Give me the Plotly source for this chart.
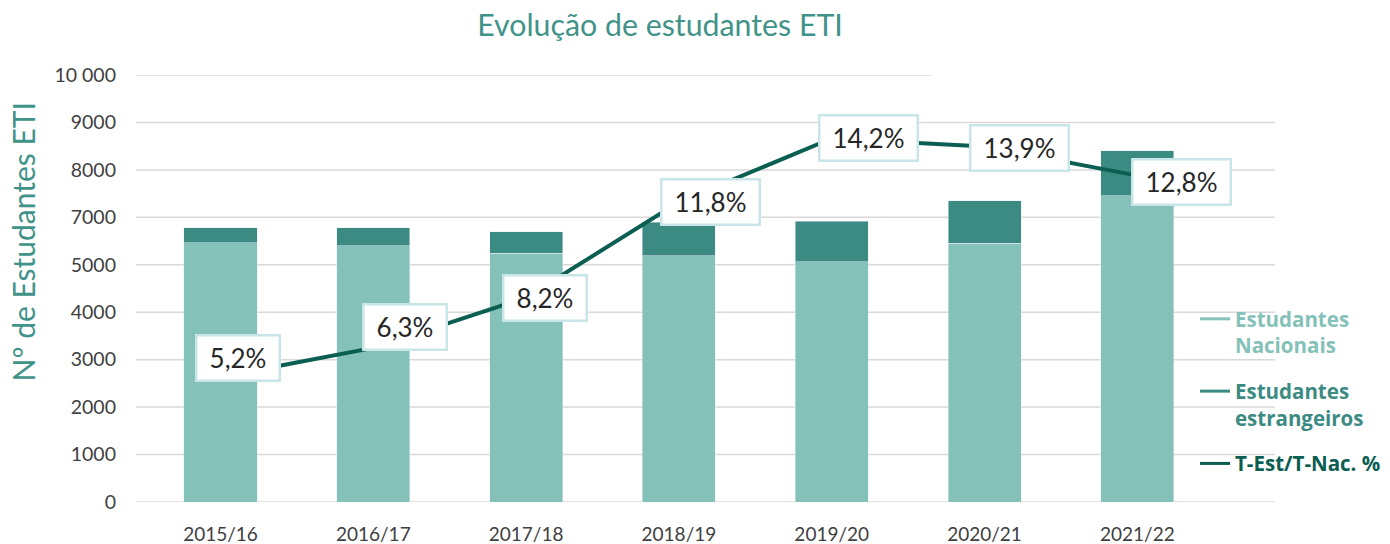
import plotly.graph_objects as go

# ---- data ----
anos = ["2015/16", "2016/17", "2017/18", "2018/19", "2019/20", "2020/21", "2021/22"]
nacionais = [5464, 5401, 5238, 5190, 5063, 5449, 6456]
estrangeiros = [317, 380, 458, 702, 850, 901, 949]
rel_est_nac = [5.2, 6.3, 8.2, 11.8, 14.2, 13.9, 12.8]
y_tickvals = [0, 1000, 2000, 3000, 4000, 5000, 6000, 7000, 8000, 9000]
y_ticktext = ["0", "1000", "2000", "3000", "4000", "5000", "7000", "8000", "9000", "10 000"]

# ---- styles ----
C_NAC = "#84c1b9"
C_EST = "#3c8b83"
C_LINE = "#0b5e52"
C_TITLE = "#3f9388"
C_TICK = "#404040"
C_GRID = "#d9d9d9"
FONT = "Lato"
LEG_FONT = "Open Sans"
label_shift_px = [(17, 19), (32, 21), (19, 0), (32, 0), (37, 0), (35, -2), (44, -6)]

fig = go.Figure()
fig.add_trace(go.Bar(x=anos, y=nacionais, marker_color=C_NAC, showlegend=False,
                     name="Estudantes Nacionais"))
fig.add_trace(go.Bar(x=anos, y=estrangeiros, marker_color=C_EST, showlegend=False,
                     name="Estudantes estrangeiros"))
fig.add_trace(go.Scatter(x=anos, y=rel_est_nac, yaxis="y2", mode="lines",
                         line=dict(color=C_LINE, width=4), showlegend=False,
                         name="T-Est/T-Nac. %"))

# legend entries (dash style as in the reference)
legend_items = [("Estudantes<br>Nacionais", C_NAC), ("Estudantes<br>estrangeiros", C_EST),
                ("T-Est/T-Nac. %", C_LINE)]
for i, (nm, col) in enumerate(legend_items):
    fig.add_trace(go.Scatter(x=[None], y=[None], mode="lines", line=dict(color=col, width=3),
                             name=f"<span style='color:{col}'><b>{nm}</b></span>",
                             legendgroup=f"g{i}", showlegend=True))

# gridlines
shapes = []
for v in y_tickvals:
    x1 = 0.6986 if v == y_tickvals[-1] else 1
    shapes.append(dict(type="line", xref="paper", yref="y", x0=0, x1=x1, y0=v, y1=v,
                       line=dict(color=C_GRID, width=1.5), layer="below"))

annotations = []
for i, (a, v) in enumerate(zip(anos, rel_est_nac)):
    dx, dy = label_shift_px[i]
    txt = f"{v:.1f}".replace(".", ",") + "%"
    annotations.append(dict(x=a, y=v, xref="x", yref="y2", text=txt,
                            showarrow=False, xshift=dx, yshift=dy,
                            width=15 * len(txt) + 9, height=31, align="center", valign="middle",
                            font=dict(family=FONT, size=26, color="#262626"),
                            bgcolor="white", bordercolor="#c8e6e8", borderwidth=2.5, borderpad=6))
annotations.append(dict(text="Nº de Estudantes ETI", textangle=-90, xref="paper", yref="paper",
                        x=(22 - 136) / 1139, y=(502 - 242.5) / 427, xanchor="center",
                        yanchor="middle", showarrow=False,
                        font=dict(family=FONT, size=30, color=C_TITLE)))

fig.update_layout(
    width=1390, height=544,
    margin=dict(l=136, r=115, t=75, b=42, autoexpand=False),
    paper_bgcolor="white", plot_bgcolor="white",
    barmode="stack", bargap=0.522,
    title=dict(text="Evolução de estudantes ETI", x=660 / 1390, xanchor="center", xref="container",
               y=1 - 25 / 544, yanchor="middle", yref="container",
               font=dict(family=FONT, size=30.3, color=C_TITLE)),
    xaxis=dict(type="category", range=[-0.553, 6.901], showgrid=False, zeroline=False,
               showline=False, ticks="", ticklabelstandoff=19, automargin=False,
               tickfont=dict(family=FONT, size=19, color=C_TICK)),
    yaxis=dict(range=[0, 9000], tickvals=y_tickvals, ticktext=y_ticktext, showgrid=False,
               zeroline=False, showline=False, ticks="", ticklabelstandoff=19, automargin=False,
               tickfont=dict(family=FONT, size=19.5, color=C_TICK)),
    yaxis2=dict(overlaying="y", range=[0.483, 16.596], visible=False),
    legend=dict(x=(1195 - 136) / 1139, xanchor="left", y=(502 - 299) / 427, yanchor="top",
                bgcolor="rgba(0,0,0,0)", traceorder="grouped", tracegroupgap=16, valign="top",
                font=dict(family=LEG_FONT, size=20.5)),
    shapes=shapes, annotations=annotations,
)

fig.write_html("out.html", config={"displayModeBar": False},
               post_script="document.body.style.margin='0';")
